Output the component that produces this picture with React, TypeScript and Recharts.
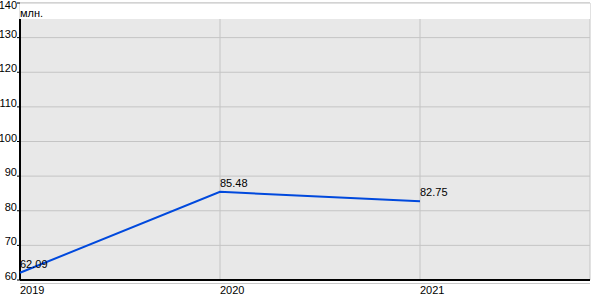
import {
  LineChart,
  Line,
  XAxis,
  YAxis,
  CartesianGrid,
  ReferenceArea,
  ReferenceLine,
  LabelList,
} from 'recharts'

const years = [2019, 2020, 2021]
const values = [62.09, 85.48, 82.75]
const yTicks = [60, 70, 80, 90, 100, 110, 120, 130, 140]
const unitLabel = 'млн.'

const chartData = years.map((year, i) => ({ year, value: values[i] }))

const font = 'Arial, "Liberation Sans", sans-serif'

// eslint-disable-next-line @typescript-eslint/no-explicit-any
function YTick({ x, y, payload }: any) {
  return (
    <text x={x + 2} y={y} textAnchor="end" fontSize={11} fontFamily={font} fill="#000">
      {payload.value}
    </text>
  )
}

// eslint-disable-next-line @typescript-eslint/no-explicit-any
function XTick({ x, y, payload }: any) {
  return (
    <text x={x} y={y + 6} textAnchor="start" fontSize={11} fontFamily={font} fill="#000">
      {payload.value}
    </text>
  )
}

// eslint-disable-next-line @typescript-eslint/no-explicit-any
function PointLabel({ x, y, value }: any) {
  return (
    <text x={x} y={y - 5} textAnchor="start" fontSize={11} fontFamily={font} fill="#000">
      {value.toFixed(2)}
    </text>
  )
}

export default function App() {
  return (
    <div style={{ position: 'absolute', left: 0, top: 0, width: 600, height: 300, background: '#fff', overflow: 'hidden' }}>
      <div
        style={{
          position: 'absolute',
          left: 20,
          top: 7,
          fontSize: 11,
          fontFamily: font,
          color: '#000',
          zIndex: 2,
        }}
      >
        {unitLabel}
      </div>
      <div style={{ position: 'absolute', left: 20, top: 283, width: 570, height: 1, background: '#c8c8c8' }} />
      <LineChart
        width={600}
        height={300}
        data={chartData}
        margin={{ top: 3, right: 10, bottom: 0, left: 0 }}
      >
        <CartesianGrid stroke="#c4c4c4" strokeWidth={1} fill="#e8e8e8" fillOpacity={1} />
        <ReferenceArea y1={135.4} y2={140} fill="#fff" fillOpacity={1} stroke="none" />
        <ReferenceLine y={140} stroke="#c4c4c4" strokeWidth={1} />
        <ReferenceLine
          segment={[
            { x: 2019, y: 60 },
            { x: 2019, y: 135.4 },
          ]}
          stroke="#000"
          strokeWidth={2}
        />
        <XAxis
          dataKey="year"
          type="number"
          domain={[2019, 2021.85]}
          ticks={years}
          axisLine={{ stroke: '#000', strokeWidth: 2 }}
          tickLine={false}
          tick={<XTick />}
          height={20}
        />
        <YAxis
          type="number"
          domain={[60, 140]}
          ticks={yTicks}
          axisLine={false}
          tickLine={{ stroke: '#000' }}
          tickSize={3}
          tick={<YTick />}
          width={20}
        />
        <Line
          type="linear"
          dataKey="value"
          stroke="#0049dd"
          strokeWidth={2}
          dot={false}
          isAnimationActive={false}
        >
          <LabelList dataKey="value" content={<PointLabel />} />
        </Line>
      </LineChart>
    </div>
  )
}
